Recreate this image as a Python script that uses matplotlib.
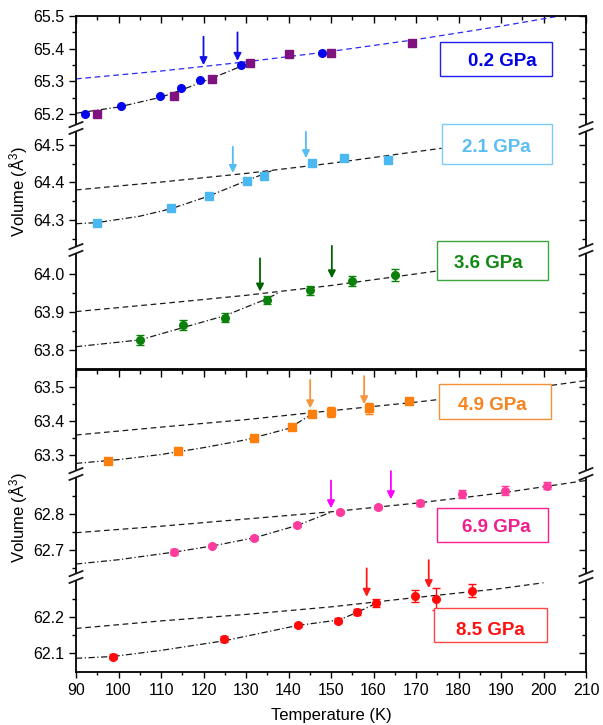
import matplotlib
matplotlib.use('Agg')
import matplotlib.pyplot as plt
from matplotlib.lines import Line2D
from matplotlib.patches import Rectangle, Polygon

plt.rcParams['font.family'] = ['Liberation Sans', 'DejaVu Sans']
plt.rcParams['mathtext.default'] = 'regular'

# ---- data ----
# 0.2 GPa (two runs)
T02_a = [92.0, 100.6, 109.8, 114.7, 119.2, 128.9, 147.8]
V02_a = [65.200, 65.225, 65.256, 65.281, 65.304, 65.349, 65.388]
E02_a = [0.003, 0.003, 0.003, 0.003, 0.003, 0.003, 0.003]
T02_b = [95.0, 113.0, 122.0, 131.0, 140.0, 150.0, 169.0]
V02_b = [65.200, 65.257, 65.308, 65.356, 65.383, 65.388, 65.418]
E02_b = [0.004, 0.004, 0.004, 0.004, 0.004, 0.004, 0.004]
fitT02_hi = [90, 110, 130, 150, 170, 190, 210]
fitV02_hi = [65.308, 65.332, 65.360, 65.392, 65.428, 65.469, 65.514]
fitT02_lo = [90, 100, 110, 115, 120, 125, 129.5]
fitV02_lo = [65.203, 65.222, 65.252, 65.275, 65.300, 65.326, 65.350]
arrT02 = [120.0, 128.0]
arrV02_from = [65.437, 65.450]
arrV02_to = [65.350, 65.363]

# 2.1 GPa
T21 = [94.9, 112.4, 121.3, 130.2, 134.3, 145.5, 153.1, 163.5]
V21 = [64.291, 64.333, 64.364, 64.404, 64.417, 64.451, 64.465, 64.461]
E21 = [0.005, 0.004, 0.004, 0.004, 0.004, 0.005, 0.005, 0.005]
fitT21_hi = [90, 110, 130, 150, 176]
fitV21_hi = [64.380, 64.401, 64.424, 64.451, 64.491]
fitT21_lo = [90, 95, 105, 112.4, 121.3, 130, 136]
fitV21_lo = [64.290, 64.293, 64.310, 64.330, 64.364, 64.404, 64.431]
arrT21 = [126.9, 144.1]
arrV21_from = [64.495, 64.535]
arrV21_to = [64.425, 64.465]

# 3.6 GPa
T36 = [105.1, 115.1, 125.1, 135.0, 145.1, 155.0, 165.1]
V36 = [63.826, 63.866, 63.885, 63.932, 63.958, 63.982, 63.998]
E36 = [0.014, 0.013, 0.012, 0.011, 0.012, 0.013, 0.015]
fitT36_hi = [90, 110, 130, 150, 165, 176]
fitV36_hi = [63.901, 63.922, 63.944, 63.970, 63.993, 64.010]
fitT36_lo = [90, 105, 115, 125, 135, 137.5]
fitV36_lo = [63.808, 63.826, 63.858, 63.890, 63.935, 63.950]
arrT36 = [133.3, 150.2]
arrV36_from = [64.042, 64.075]
arrV36_to = [63.954, 63.989]

# 4.9 GPa
T49 = [97.5, 114.1, 131.9, 140.8, 145.5, 150.0, 159.0, 168.4]
V49 = [63.283, 63.312, 63.351, 63.381, 63.419, 63.427, 63.437, 63.458]
E49 = [0.004, 0.004, 0.006, 0.004, 0.005, 0.015, 0.017, 0.004]
fitT49_hi = [90, 110, 130, 150, 170, 190, 210]
fitV49_hi = [63.359, 63.382, 63.404, 63.430, 63.455, 63.484, 63.518]
fitT49_lo = [90, 100, 110, 120, 130, 140, 145.5]
fitV49_lo = [63.276, 63.287, 63.302, 63.322, 63.345, 63.378, 63.420]
arrT49 = [145.1, 157.8]
arrV49_from = [63.520, 63.531]
arrV49_to = [63.437, 63.449]

# 6.9 GPa
T69 = [113.1, 122.0, 131.9, 141.9, 152.0, 161.0, 170.9, 180.9, 190.9, 200.9]
V69 = [62.694, 62.712, 62.733, 62.769, 62.806, 62.820, 62.831, 62.855, 62.865, 62.879]
E69 = [0.008, 0.005, 0.005, 0.005, 0.006, 0.005, 0.008, 0.011, 0.0125, 0.011]
fitT69_hi = [90, 110, 130, 150, 170, 190, 210]
fitV69_hi = [62.748, 62.766, 62.786, 62.806, 62.830, 62.858, 62.893]
fitT69_lo = [90, 100, 113, 122, 132, 142, 150]
fitV69_lo = [62.661, 62.673, 62.694, 62.711, 62.734, 62.768, 62.805]
arrT69 = [150.0, 164.1]
arrV69_from = [62.893, 62.919]
arrV69_to = [62.816, 62.841]

# 8.5 GPa
T85 = [98.6, 124.9, 142.3, 151.6, 156.2, 160.6, 169.8, 174.7, 183.1]
V85 = [62.091, 62.140, 62.179, 62.191, 62.214, 62.241, 62.260, 62.251, 62.274]
E85 = [0.008, 0.009, 0.006, 0.006, 0.008, 0.011, 0.017, 0.030, 0.018]
fitT85_hi = [90, 110, 130, 150, 170, 190, 200]
fitV85_hi = [62.169, 62.190, 62.208, 62.229, 62.255, 62.280, 62.296]
fitT85_lo = [90, 98.6, 110, 125, 142, 152, 156, 160.5]
fitV85_lo = [62.086, 62.091, 62.108, 62.135, 62.177, 62.193, 62.213, 62.238]
arrT85 = [158.4, 173.0]
arrV85_from = [62.336, 62.359]
arrV85_to = [62.257, 62.281]

# y ticks of each axis segment
yt_02 = [65.2, 65.3, 65.4, 65.5]
yt_21 = [64.3, 64.4, 64.5]
yt_36 = [63.8, 63.9, 64.0]
yt_49 = [63.3, 63.4, 63.5]
yt_69 = [62.7, 62.8]
yt_85 = [62.1, 62.2]
ym_02 = [65.25, 65.35, 65.45]
ym_21 = [64.25, 64.35, 64.45]
ym_36 = [63.85, 63.95]
ym_49 = [63.35, 63.45]
ym_69 = [62.65, 62.75, 62.85]
ym_85 = [62.15, 62.25]
xt = [90, 100, 110, 120, 130, 140, 150, 160, 170, 180, 190, 200, 210]
xm = [95, 105, 115, 125, 135, 145, 155, 165, 175, 185, 195, 205]

labels = ['0.2 GPa', '2.1 GPa', '3.6 GPa', '4.9 GPa', '6.9 GPa', '8.5 GPa']

# ---- layout (figure pixels) ----
W, H = 603, 725
fig = plt.figure(figsize=(W / 100, H / 100), dpi=100)

def fx(px):
    return px / W

def fy(py):
    return 1 - py / H

LEFT, RIGHT = 76, 586
seg_px = [(16, 128), (128, 250), (250, 369), (370, 474), (474, 577), (577, 672)]
seg_ylim = [(65.158, 65.5), (64.22, 64.545), (63.749, 64.064),
            (63.245, 63.549), (62.625, 62.911), (62.048, 62.312)]
seg_major = [yt_02, yt_21, yt_36, yt_49, yt_69, yt_85]
seg_minor = [ym_02, ym_21, ym_36, ym_49, ym_69, ym_85]

LINE = '#1a1a1a'
axes = []
for i, ((top, bot), ylim) in enumerate(zip(seg_px, seg_ylim)):
    ax = fig.add_axes([fx(LEFT), fy(bot), fx(RIGHT) - fx(LEFT), (bot - top) / H])
    ax.set_facecolor('none')
    ax.set_xlim(90, 210)
    ax.set_ylim(*ylim)
    ax.set_yticks(seg_major[i])
    ax.set_yticks(seg_minor[i], minor=True)
    ax.set_yticklabels(['%.1f' % v for v in seg_major[i]])
    ax.tick_params(axis='y', which='major', direction='out', length=5, width=1, labelsize=11.5, right=False)
    ax.tick_params(axis='y', which='minor', direction='out', length=2.8, width=1, right=False)
    for s in ax.spines.values():
        s.set_linewidth(1.3)
    ax.spines['right'].set_visible(False)
    ax.set_xticks(xt)
    ax.set_xticks(xm, minor=True)
    if i in (0, 3):
        ax.spines['bottom'].set_visible(False)
        ax.xaxis.set_ticks_position('top')
        ax.tick_params(axis='x', which='major', direction='in', length=5, width=1, labeltop=False, labelbottom=False)
        ax.tick_params(axis='x', which='minor', direction='in', length=2.8, width=1)
    elif i in (2, 5):
        ax.spines['top'].set_visible(False)
        if i == 5:
            ax.tick_params(axis='x', which='major', direction='out', length=4.5, width=1, labelsize=11.5, top=False)
            ax.tick_params(axis='x', which='minor', direction='out', length=2.5, width=1, top=False)
            ax.set_xticklabels([str(v) for v in xt])
        else:
            ax.tick_params(axis='x', which='both', bottom=False, top=False, labelbottom=False)
    else:
        ax.spines['top'].set_visible(False)
        ax.spines['bottom'].set_visible(False)
        ax.tick_params(axis='x', which='both', bottom=False, top=False, labelbottom=False)

    # right axis with inward ticks
    rx = ax.twinx()
    rx.set_facecolor('none')
    rx.set_ylim(*ylim)
    rx.set_yticks(seg_major[i])
    rx.set_yticks(seg_minor[i], minor=True)
    rx.tick_params(axis='y', which='major', direction='in', length=5, width=1, labelright=False)
    rx.tick_params(axis='y', which='minor', direction='in', length=2.8, width=1)
    for k in ('top', 'bottom', 'left'):
        rx.spines[k].set_visible(False)
    rx.spines['right'].set_linewidth(1.3)
    axes.append(ax)

def fit_lines(ax, Th, Vh, Tl, Vl, hcol=LINE):
    ax.plot(Th, Vh, color=hcol, lw=0.9, dashes=(4.5, 3), zorder=2)
    ax.plot(Tl, Vl, color=LINE, lw=0.9, dashes=(5, 2, 1, 2), zorder=2)

def points(ax, T, V, E, col, mk):
    ms = 5.5 if mk == 'o' else 5.2
    ax.errorbar(T, V, yerr=E, fmt=mk, ms=ms, color=col, mec=col, ecolor=col,
                elinewidth=1, capsize=3, capthick=1, zorder=3)

def arrows(ax, T, V0, V1, col):
    for t, a, b in zip(T, V0, V1):
        ax.annotate('', xy=(t, b), xytext=(t, a), annotation_clip=False,
                    arrowprops=dict(arrowstyle='-|>', color=col, lw=1.3,
                                    mutation_scale=11, shrinkA=0, shrinkB=0))

a0, a1, a2, a3, a4, a5 = axes

fit_lines(a0, fitT02_hi, fitV02_hi, fitT02_lo, fitV02_lo, hcol='#2a2af5')
points(a0, T02_a, V02_a, E02_a, '#0505f0', 'o')
points(a0, T02_b, V02_b, E02_b, '#7f127f', 's')
arrows(a0, arrT02, arrV02_from, arrV02_to, '#1010e8')

fit_lines(a1, fitT21_hi, fitV21_hi, fitT21_lo, fitV21_lo)
points(a1, T21, V21, E21, '#4cb8f2', 's')
arrows(a1, arrT21, arrV21_from, arrV21_to, '#55bdf2')

fit_lines(a2, fitT36_hi, fitV36_hi, fitT36_lo, fitV36_lo)
points(a2, T36, V36, E36, '#0b800b', 'o')
arrows(a2, arrT36, arrV36_from, arrV36_to, '#006400')

fit_lines(a3, fitT49_hi, fitV49_hi, fitT49_lo, fitV49_lo)
points(a3, T49, V49, E49, '#ff7f0e', 's')
arrows(a3, arrT49, arrV49_from, arrV49_to, '#f5953f')

fit_lines(a4, fitT69_hi, fitV69_hi, fitT69_lo, fitV69_lo)
points(a4, T69, V69, E69, '#ff3c9e', 'o')
arrows(a4, arrT69, arrV69_from, arrV69_to, '#ff00ff')

fit_lines(a5, fitT85_hi, fitV85_hi, fitT85_lo, fitV85_lo)
points(a5, T85, V85, E85, '#ff0a0a', 'o')
arrows(a5, arrT85, arrV85_from, arrV85_to, '#ff1a1a')

# labelled boxes (figure pixels: x0, y0, x1, y1, text x, baseline)
box_px = [(440, 41.7, 551.7, 76, 502.8, 66),
          (441.7, 124, 552.3, 164, 496.8, 151.7),
          (436.7, 240.7, 548.3, 280, 488.3, 268.3),
          (439.3, 384.3, 550.7, 419, 492.2, 410),
          (437.3, 507.7, 548.3, 542.3, 496.2, 531.7),
          (434.3, 608.3, 546.7, 642.3, 490.5, 635)]
box_edge = ['#1e1ef0', '#7ccbf5', '#3ca83c', '#f5903a', '#ff1c8c', '#ff4545']
box_text = ['#0000e6', '#5bbef2', '#118811', '#f5841f', '#f01e8c', '#ff1010']
for (x0, y0, x1, y1, tx, ty), lab, ec, tc in zip(box_px, labels, box_edge, box_text):
    fig.add_artist(Rectangle((fx(x0), fy(y1)), fx(x1) - fx(x0), (y1 - y0) / H,
                             transform=fig.transFigure, facecolor='white',
                             edgecolor=ec, lw=1.0, zorder=5))
    fig.text(fx(tx), fy(ty), lab, color=tc, fontsize=13.5, fontweight='bold',
             ha='center', va='baseline', zorder=6)

# axis break marks
for yb in (128, 250, 474, 577):
    for xb in (LEFT, RIGHT):
        d = 6.5
        up = (yb - 3.4, yb + 3.4)
        poly = [(xb - 2.5, up[0] + 1.2), (xb + 2.5, up[0] - 1.2),
                (xb + 2.5, up[1] - 1.2), (xb - 2.5, up[1] + 1.2)]
        fig.add_artist(Polygon([(fx(px), fy(py)) for px, py in poly], closed=True,
                               transform=fig.transFigure, facecolor='white',
                               edgecolor='none', zorder=7))
        for c in up:
            fig.add_artist(Line2D([fx(xb - d), fx(xb + d)], [fy(c + 2.6), fy(c - 2.6)],
                                  transform=fig.transFigure, color=LINE, lw=1.3, zorder=8))

fig.text(fx(19), fy(191), 'Volume (Å$^{3}$)', rotation=90, fontsize=12,
         ha='center', va='center')
fig.text(fx(19), fy(517), 'Volume (Å$^{3}$)', rotation=90, fontsize=12,
         ha='center', va='center')
fig.text(fx(331), fy(720), 'Temperature (K)', fontsize=12, ha='center', va='baseline')

fig.savefig('out.png', dpi=100)
